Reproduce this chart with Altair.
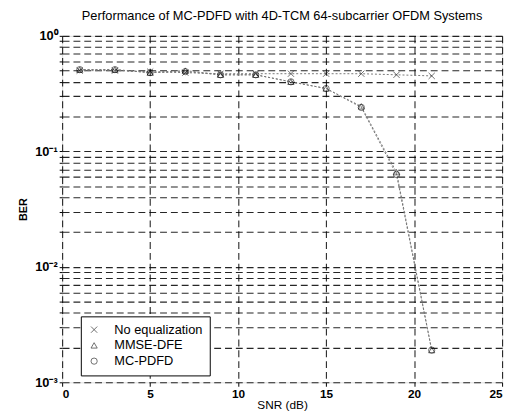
import altair as alt
import pandas as pd

snr = [1, 3, 5, 7, 9, 11, 13, 15, 17, 19, 21]
no_eq = [0.50, 0.50, 0.49, 0.48, 0.47, 0.47, 0.47, 0.47, 0.47, 0.46, 0.45]
mmse_dfe = [0.51, 0.51, 0.48, 0.50, 0.46, 0.46, 0.40, 0.35, 0.245, 0.066, 0.0019]
mc_pdfd = [0.51, 0.51, 0.48, 0.49, 0.46, 0.46, 0.40, 0.35, 0.24, 0.063, 0.0019]
series = ["No equalization", "MMSE-DFE", "MC-PDFD"]

rows = []
for name, vals in zip(series, [no_eq, mmse_dfe, mc_pdfd]):
    for s, v in zip(snr, vals):
        rows.append({"SNR": s, "BER": v, "Series": name})
df = pd.DataFrame(rows)

yvals = []
for e in [-3, -2, -1]:
    for m in range(1, 10):
        yvals.append(m * 10 ** e)
yvals.append(1.0)

FONT = "Liberation Sans"

x = alt.X("SNR:Q", scale=alt.Scale(domain=[0, 25], nice=False),
          axis=alt.Axis(values=[0, 5, 10, 15, 20, 25], title="SNR (dB)",
                        grid=True, gridDash=[7, 4], gridColor="black", gridOpacity=0.85,
                        gridWidth=1.1,
                        tickColor="black", domain=False, labelColor="black",
                        labelFontWeight="bold", labelFontSize=12, titleFontSize=12,
                        titleFontWeight="normal", titlePadding=1, tickSize=4,
                        labelFont=FONT, titleFont=FONT, titleColor="black"))
y = alt.Y("BER:Q", scale=alt.Scale(type="log", domain=[0.001, 1], nice=False),
          axis=alt.Axis(values=yvals, title="BER", grid=True, gridDash=[7, 4],
                        gridColor="black", gridOpacity=0.85, gridWidth=1.1,
                        tickColor="black", domain=False,
                        labelExpr="datum.value == 1 ? '10⁰' : datum.value == 0.1 ? '10⁻¹' : datum.value == 0.01 ? '10⁻²' : datum.value == 0.001 ? '10⁻³' : ''",
                        labelColor="black", labelFontSize=13, labelFontWeight="bold",
                        titleFontSize=11, titleFontWeight="bold", titlePadding=6, tickSize=3,
                        labelFont=FONT, titleFont=FONT, titleColor="black"))

shape_scale = alt.Scale(domain=series,
                        range=["M-1,-1L1,1M-1,1L1,-1", "triangle-up", "circle"])

lines = alt.Chart(df).mark_line(strokeDash=[2, 2], strokeWidth=1, color="#777777").encode(
    x=x, y=y, detail="Series:N")
points = alt.Chart(df).mark_point(filled=False, color="black", size=40, strokeWidth=0.8).encode(
    x=x, y=y,
    shape=alt.Shape("Series:N", scale=shape_scale, sort=series,
                    legend=alt.Legend(title=None, orient="none", legendX=19, legendY=285,
                                      fillColor="white", strokeColor="black", padding=7,
                                      labelFontSize=13, labelFont=FONT, symbolSize=40,
                                      symbolStrokeColor="black", symbolFillColor="transparent",
                                      symbolStrokeWidth=0.8, rowPadding=2, labelOffset=14,
                                      labelColor="black")))

chart = (lines + points).properties(
    width=447, height=352,
    padding={"left": 55, "top": 25, "right": 6, "bottom": 35},
    autosize=alt.AutoSizeParams(type="none"),
    title=alt.Title("Performance of MC-PDFD with 4D-TCM 64-subcarrier OFDM Systems",
                    fontSize=13, fontWeight="normal", font=FONT, offset=7, color="black"),
).configure_view(stroke="black", strokeWidth=1.2).configure(background="white")

chart.save("out.html", embed_options={"renderer": "svg", "actions": False})
